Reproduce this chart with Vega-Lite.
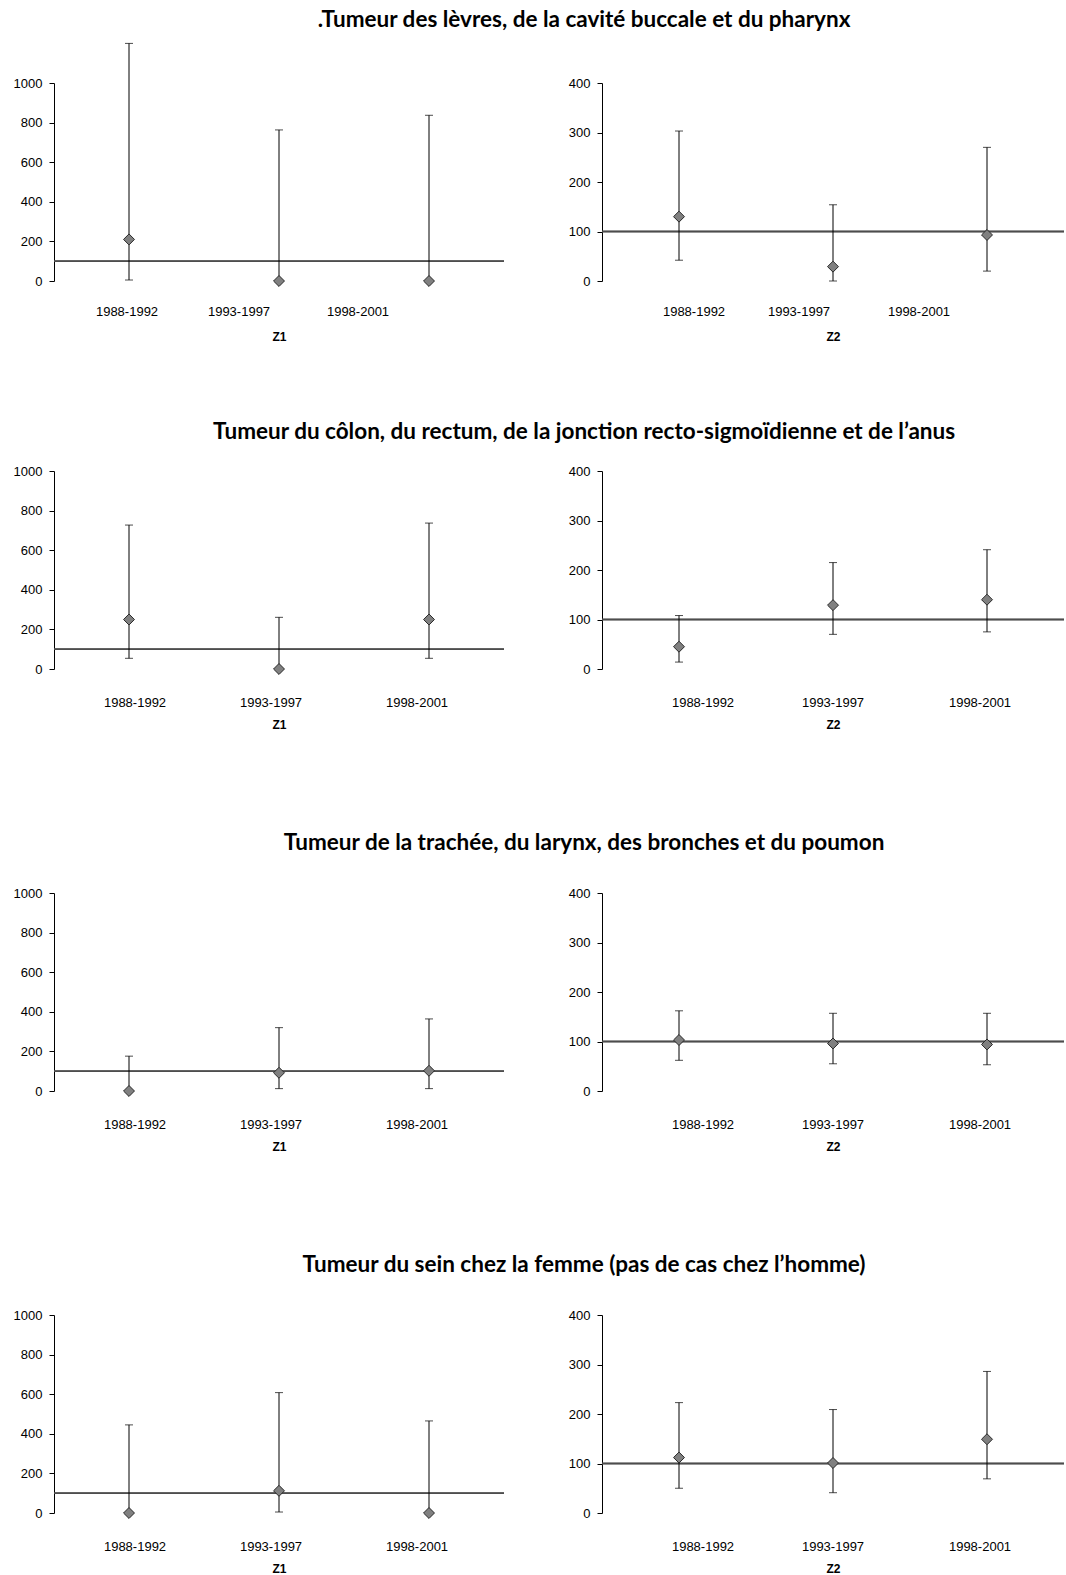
{
  "$schema": "https://vega.github.io/schema/vega-lite/v6.json",
  "padding": {"left": 13, "top": 9, "right": 0, "bottom": 0},
  "background": "white",
  "datasets": {
    "d": [
      {"cancer": "levres", "zone": "Z1", "periode": "1988-1992", "valeur": 210, "bas": 5, "haut": 1200},
      {"cancer": "levres", "zone": "Z1", "periode": "1993-1997", "valeur": 0, "bas": 0, "haut": 763},
      {"cancer": "levres", "zone": "Z1", "periode": "1998-2001", "valeur": 0, "bas": 0, "haut": 837},
      {"cancer": "levres", "zone": "Z2", "periode": "1988-1992", "valeur": 130, "bas": 42, "haut": 303},
      {"cancer": "levres", "zone": "Z2", "periode": "1993-1997", "valeur": 29, "bas": 0, "haut": 154},
      {"cancer": "levres", "zone": "Z2", "periode": "1998-2001", "valeur": 93, "bas": 20, "haut": 270},
      {"cancer": "colon", "zone": "Z1", "periode": "1988-1992", "valeur": 250, "bas": 54, "haut": 727},
      {"cancer": "colon", "zone": "Z1", "periode": "1993-1997", "valeur": 0, "bas": 0, "haut": 261},
      {"cancer": "colon", "zone": "Z1", "periode": "1998-2001", "valeur": 250, "bas": 54, "haut": 737},
      {"cancer": "colon", "zone": "Z2", "periode": "1988-1992", "valeur": 45, "bas": 14, "haut": 108},
      {"cancer": "colon", "zone": "Z2", "periode": "1993-1997", "valeur": 129, "bas": 70, "haut": 215},
      {"cancer": "colon", "zone": "Z2", "periode": "1998-2001", "valeur": 140, "bas": 75, "haut": 241},
      {"cancer": "poumon", "zone": "Z1", "periode": "1988-1992", "valeur": 0, "bas": 0, "haut": 176},
      {"cancer": "poumon", "zone": "Z1", "periode": "1993-1997", "valeur": 92, "bas": 12, "haut": 320},
      {"cancer": "poumon", "zone": "Z1", "periode": "1998-2001", "valeur": 102, "bas": 12, "haut": 364},
      {"cancer": "poumon", "zone": "Z2", "periode": "1988-1992", "valeur": 103, "bas": 62, "haut": 162},
      {"cancer": "poumon", "zone": "Z2", "periode": "1993-1997", "valeur": 96, "bas": 55, "haut": 157},
      {"cancer": "poumon", "zone": "Z2", "periode": "1998-2001", "valeur": 94, "bas": 53, "haut": 157},
      {"cancer": "sein", "zone": "Z1", "periode": "1988-1992", "valeur": 0, "bas": 0, "haut": 445},
      {"cancer": "sein", "zone": "Z1", "periode": "1993-1997", "valeur": 112, "bas": 5, "haut": 608},
      {"cancer": "sein", "zone": "Z1", "periode": "1998-2001", "valeur": 0, "bas": 0, "haut": 465},
      {"cancer": "sein", "zone": "Z2", "periode": "1988-1992", "valeur": 112, "bas": 50, "haut": 223},
      {"cancer": "sein", "zone": "Z2", "periode": "1993-1997", "valeur": 101, "bas": 41, "haut": 209},
      {"cancer": "sein", "zone": "Z2", "periode": "1998-2001", "valeur": 149, "bas": 69, "haut": 286}
    ]
  },
  "data": {"name": "d"},
  "spacing": 78,
  "vconcat": [
    {
      "title": {"text": ".Tumeur des lèvres, de la cavité buccale et du pharynx", "offset": 11, "dx": 571, "anchor": "start", "align": "center"},
      "bounds": "flush",
      "spacing": 98,
      "hconcat": [
        {
          "width": 450, "height": 198,
          "transform": [{"filter": "datum.cancer == 'levres' && datum.zone == 'Z1'"}],
          "layer": [
            {"mark": {"type": "rule", "color": "#4d4d4d", "strokeWidth": 1.5},
             "encoding": {"y": {"datum": 100, "type": "quantitative", "scale": {"domain": [0, 1000], "nice": false}, "axis": {"values": [0, 200, 400, 600, 800, 1000], "format": "d", "title": null}}}},
            {"mark": {"type": "rule", "color": "black", "strokeWidth": 1},
             "encoding": {
               "x": {"field": "periode", "type": "nominal", "sort": ["1988-1992", "1993-1997", "1998-2001"], "scale": {"type": "band", "paddingInner": 0, "paddingOuter": 0}, "axis": {"title": "Z1", "labelPadding": 24, "titlePadding": 13, "labelOffset": {"condition": [{"test": "datum.value == '1993-1997'", "value": -40}, {"test": "datum.value == '1998-2001'", "value": -71}], "value": -2}}},
               "y": {"field": "bas", "type": "quantitative", "scale": {"domain": [0, 1000], "nice": false}, "axis": {"values": [0, 200, 400, 600, 800, 1000], "format": "d", "title": null}},
               "y2": {"field": "haut"}}},
            {"mark": {"type": "tick", "color": "black", "thickness": 1, "size": 8},
             "encoding": {
               "x": {"field": "periode", "type": "nominal", "sort": ["1988-1992", "1993-1997", "1998-2001"], "scale": {"type": "band", "paddingInner": 0, "paddingOuter": 0}, "axis": {"title": "Z1", "labelPadding": 24, "titlePadding": 13, "labelOffset": {"condition": [{"test": "datum.value == '1993-1997'", "value": -40}, {"test": "datum.value == '1998-2001'", "value": -71}], "value": -2}}},
               "y": {"field": "haut", "type": "quantitative", "scale": {"domain": [0, 1000], "nice": false}, "axis": {"values": [0, 200, 400, 600, 800, 1000], "format": "d", "title": null}}}},
            {"mark": {"type": "tick", "color": "black", "thickness": 1, "size": 8},
             "encoding": {
               "x": {"field": "periode", "type": "nominal", "sort": ["1988-1992", "1993-1997", "1998-2001"], "scale": {"type": "band", "paddingInner": 0, "paddingOuter": 0}, "axis": {"title": "Z1", "labelPadding": 24, "titlePadding": 13, "labelOffset": {"condition": [{"test": "datum.value == '1993-1997'", "value": -40}, {"test": "datum.value == '1998-2001'", "value": -71}], "value": -2}}},
               "y": {"field": "bas", "type": "quantitative", "scale": {"domain": [0, 1000], "nice": false}, "axis": {"values": [0, 200, 400, 600, 800, 1000], "format": "d", "title": null}}}},
            {"mark": {"type": "point", "shape": "diamond", "filled": true, "fill": "#808080", "stroke": "#2a2a2a", "strokeWidth": 1, "size": 120, "opacity": 1},
             "encoding": {
               "x": {"field": "periode", "type": "nominal", "sort": ["1988-1992", "1993-1997", "1998-2001"], "scale": {"type": "band", "paddingInner": 0, "paddingOuter": 0}, "axis": {"title": "Z1", "labelPadding": 24, "titlePadding": 13, "labelOffset": {"condition": [{"test": "datum.value == '1993-1997'", "value": -40}, {"test": "datum.value == '1998-2001'", "value": -71}], "value": -2}}},
               "y": {"field": "valeur", "type": "quantitative", "scale": {"domain": [0, 1000], "nice": false}, "axis": {"values": [0, 200, 400, 600, 800, 1000], "format": "d", "title": null}}}}
          ]
        },
        {
          "width": 462, "height": 198,
          "transform": [{"filter": "datum.cancer == 'levres' && datum.zone == 'Z2'"}],
          "layer": [
            {"mark": {"type": "rule", "color": "#4d4d4d", "strokeWidth": 1.5},
             "encoding": {"y": {"datum": 100, "type": "quantitative", "scale": {"domain": [0, 400], "nice": false}, "axis": {"values": [0, 100, 200, 300, 400], "title": null}}}},
            {"mark": {"type": "rule", "color": "black", "strokeWidth": 1},
             "encoding": {
               "x": {"field": "periode", "type": "nominal", "sort": ["1988-1992", "1993-1997", "1998-2001"], "scale": {"type": "band", "paddingInner": 0, "paddingOuter": 0}, "axis": {"title": "Z2", "labelPadding": 24, "titlePadding": 13, "labelOffset": {"condition": [{"test": "datum.value == '1993-1997'", "value": -34}, {"test": "datum.value == '1998-2001'", "value": -68}], "value": 15}}},
               "y": {"field": "bas", "type": "quantitative", "scale": {"domain": [0, 400], "nice": false}, "axis": {"values": [0, 100, 200, 300, 400], "title": null}},
               "y2": {"field": "haut"}}},
            {"mark": {"type": "tick", "color": "black", "thickness": 1, "size": 8},
             "encoding": {
               "x": {"field": "periode", "type": "nominal", "sort": ["1988-1992", "1993-1997", "1998-2001"], "scale": {"type": "band", "paddingInner": 0, "paddingOuter": 0}, "axis": {"title": "Z2", "labelPadding": 24, "titlePadding": 13, "labelOffset": {"condition": [{"test": "datum.value == '1993-1997'", "value": -34}, {"test": "datum.value == '1998-2001'", "value": -68}], "value": 15}}},
               "y": {"field": "haut", "type": "quantitative", "scale": {"domain": [0, 400], "nice": false}, "axis": {"values": [0, 100, 200, 300, 400], "title": null}}}},
            {"mark": {"type": "tick", "color": "black", "thickness": 1, "size": 8},
             "encoding": {
               "x": {"field": "periode", "type": "nominal", "sort": ["1988-1992", "1993-1997", "1998-2001"], "scale": {"type": "band", "paddingInner": 0, "paddingOuter": 0}, "axis": {"title": "Z2", "labelPadding": 24, "titlePadding": 13, "labelOffset": {"condition": [{"test": "datum.value == '1993-1997'", "value": -34}, {"test": "datum.value == '1998-2001'", "value": -68}], "value": 15}}},
               "y": {"field": "bas", "type": "quantitative", "scale": {"domain": [0, 400], "nice": false}, "axis": {"values": [0, 100, 200, 300, 400], "title": null}}}},
            {"mark": {"type": "point", "shape": "diamond", "filled": true, "fill": "#808080", "stroke": "#2a2a2a", "strokeWidth": 1, "size": 120, "opacity": 1},
             "encoding": {
               "x": {"field": "periode", "type": "nominal", "sort": ["1988-1992", "1993-1997", "1998-2001"], "scale": {"type": "band", "paddingInner": 0, "paddingOuter": 0}, "axis": {"title": "Z2", "labelPadding": 24, "titlePadding": 13, "labelOffset": {"condition": [{"test": "datum.value == '1993-1997'", "value": -34}, {"test": "datum.value == '1998-2001'", "value": -68}], "value": 15}}},
               "y": {"field": "valeur", "type": "quantitative", "scale": {"domain": [0, 400], "nice": false}, "axis": {"values": [0, 100, 200, 300, 400], "title": null}}}}
          ]
        }
      ]
    },
    {
      "spacing": 101,
      "vconcat": [
        {
          "title": {"text": "Tumeur du côlon, du rectum, de la jonction recto-sigmoïdienne et de l’anus", "offset": 22, "dx": 571, "anchor": "start", "align": "center"},
          "bounds": "flush",
          "spacing": 98,
          "hconcat": [
            {
              "width": 450, "height": 198,
              "transform": [{"filter": "datum.cancer == 'colon' && datum.zone == 'Z1'"}],
              "layer": [
                {"mark": {"type": "rule", "color": "#4d4d4d", "strokeWidth": 1.5},
                 "encoding": {"y": {"datum": 100, "type": "quantitative", "scale": {"domain": [0, 1000], "nice": false}, "axis": {"values": [0, 200, 400, 600, 800, 1000], "format": "d", "title": null}}}},
                {"mark": {"type": "rule", "color": "black", "strokeWidth": 1},
                 "encoding": {
                   "x": {"field": "periode", "type": "nominal", "sort": ["1988-1992", "1993-1997", "1998-2001"], "scale": {"type": "band", "paddingInner": 0, "paddingOuter": 0}, "axis": {"title": "Z1", "labelOffset": {"condition": [{"test": "datum.value == '1993-1997'", "value": -8}, {"test": "datum.value == '1998-2001'", "value": -12}], "value": 6}}},
                   "y": {"field": "bas", "type": "quantitative", "scale": {"domain": [0, 1000], "nice": false}, "axis": {"values": [0, 200, 400, 600, 800, 1000], "format": "d", "title": null}},
                   "y2": {"field": "haut"}}},
                {"mark": {"type": "tick", "color": "black", "thickness": 1, "size": 8},
                 "encoding": {
                   "x": {"field": "periode", "type": "nominal", "sort": ["1988-1992", "1993-1997", "1998-2001"], "scale": {"type": "band", "paddingInner": 0, "paddingOuter": 0}, "axis": {"title": "Z1", "labelOffset": {"condition": [{"test": "datum.value == '1993-1997'", "value": -8}, {"test": "datum.value == '1998-2001'", "value": -12}], "value": 6}}},
                   "y": {"field": "haut", "type": "quantitative", "scale": {"domain": [0, 1000], "nice": false}, "axis": {"values": [0, 200, 400, 600, 800, 1000], "format": "d", "title": null}}}},
                {"mark": {"type": "tick", "color": "black", "thickness": 1, "size": 8},
                 "encoding": {
                   "x": {"field": "periode", "type": "nominal", "sort": ["1988-1992", "1993-1997", "1998-2001"], "scale": {"type": "band", "paddingInner": 0, "paddingOuter": 0}, "axis": {"title": "Z1", "labelOffset": {"condition": [{"test": "datum.value == '1993-1997'", "value": -8}, {"test": "datum.value == '1998-2001'", "value": -12}], "value": 6}}},
                   "y": {"field": "bas", "type": "quantitative", "scale": {"domain": [0, 1000], "nice": false}, "axis": {"values": [0, 200, 400, 600, 800, 1000], "format": "d", "title": null}}}},
                {"mark": {"type": "point", "shape": "diamond", "filled": true, "fill": "#808080", "stroke": "#2a2a2a", "strokeWidth": 1, "size": 120, "opacity": 1},
                 "encoding": {
                   "x": {"field": "periode", "type": "nominal", "sort": ["1988-1992", "1993-1997", "1998-2001"], "scale": {"type": "band", "paddingInner": 0, "paddingOuter": 0}, "axis": {"title": "Z1", "labelOffset": {"condition": [{"test": "datum.value == '1993-1997'", "value": -8}, {"test": "datum.value == '1998-2001'", "value": -12}], "value": 6}}},
                   "y": {"field": "valeur", "type": "quantitative", "scale": {"domain": [0, 1000], "nice": false}, "axis": {"values": [0, 200, 400, 600, 800, 1000], "format": "d", "title": null}}}}
              ]
            },
            {
              "width": 462, "height": 198,
              "transform": [{"filter": "datum.cancer == 'colon' && datum.zone == 'Z2'"}],
              "layer": [
                {"mark": {"type": "rule", "color": "#4d4d4d", "strokeWidth": 1.5},
                 "encoding": {"y": {"datum": 100, "type": "quantitative", "scale": {"domain": [0, 400], "nice": false}, "axis": {"values": [0, 100, 200, 300, 400], "title": null}}}},
                {"mark": {"type": "rule", "color": "black", "strokeWidth": 1},
                 "encoding": {
                   "x": {"field": "periode", "type": "nominal", "sort": ["1988-1992", "1993-1997", "1998-2001"], "scale": {"type": "band", "paddingInner": 0, "paddingOuter": 0}, "axis": {"title": "Z2", "labelOffset": {"condition": [{"test": "datum.value == '1993-1997'", "value": 0}, {"test": "datum.value == '1998-2001'", "value": -7}], "value": 24}}},
                   "y": {"field": "bas", "type": "quantitative", "scale": {"domain": [0, 400], "nice": false}, "axis": {"values": [0, 100, 200, 300, 400], "title": null}},
                   "y2": {"field": "haut"}}},
                {"mark": {"type": "tick", "color": "black", "thickness": 1, "size": 8},
                 "encoding": {
                   "x": {"field": "periode", "type": "nominal", "sort": ["1988-1992", "1993-1997", "1998-2001"], "scale": {"type": "band", "paddingInner": 0, "paddingOuter": 0}, "axis": {"title": "Z2", "labelOffset": {"condition": [{"test": "datum.value == '1993-1997'", "value": 0}, {"test": "datum.value == '1998-2001'", "value": -7}], "value": 24}}},
                   "y": {"field": "haut", "type": "quantitative", "scale": {"domain": [0, 400], "nice": false}, "axis": {"values": [0, 100, 200, 300, 400], "title": null}}}},
                {"mark": {"type": "tick", "color": "black", "thickness": 1, "size": 8},
                 "encoding": {
                   "x": {"field": "periode", "type": "nominal", "sort": ["1988-1992", "1993-1997", "1998-2001"], "scale": {"type": "band", "paddingInner": 0, "paddingOuter": 0}, "axis": {"title": "Z2", "labelOffset": {"condition": [{"test": "datum.value == '1993-1997'", "value": 0}, {"test": "datum.value == '1998-2001'", "value": -7}], "value": 24}}},
                   "y": {"field": "bas", "type": "quantitative", "scale": {"domain": [0, 400], "nice": false}, "axis": {"values": [0, 100, 200, 300, 400], "title": null}}}},
                {"mark": {"type": "point", "shape": "diamond", "filled": true, "fill": "#808080", "stroke": "#2a2a2a", "strokeWidth": 1, "size": 120, "opacity": 1},
                 "encoding": {
                   "x": {"field": "periode", "type": "nominal", "sort": ["1988-1992", "1993-1997", "1998-2001"], "scale": {"type": "band", "paddingInner": 0, "paddingOuter": 0}, "axis": {"title": "Z2", "labelOffset": {"condition": [{"test": "datum.value == '1993-1997'", "value": 0}, {"test": "datum.value == '1998-2001'", "value": -7}], "value": 24}}},
                   "y": {"field": "valeur", "type": "quantitative", "scale": {"domain": [0, 400], "nice": false}, "axis": {"values": [0, 100, 200, 300, 400], "title": null}}}}
              ]
            }
          ]
        },
        {
          "title": {"text": "Tumeur de la trachée, du larynx, des bronches et du poumon", "offset": 33, "dx": 571, "anchor": "start", "align": "center"},
          "bounds": "flush",
          "spacing": 98,
          "hconcat": [
            {
              "width": 450, "height": 198,
              "transform": [{"filter": "datum.cancer == 'poumon' && datum.zone == 'Z1'"}],
              "layer": [
                {"mark": {"type": "rule", "color": "#4d4d4d", "strokeWidth": 1.5},
                 "encoding": {"y": {"datum": 100, "type": "quantitative", "scale": {"domain": [0, 1000], "nice": false}, "axis": {"values": [0, 200, 400, 600, 800, 1000], "format": "d", "title": null}}}},
                {"mark": {"type": "rule", "color": "black", "strokeWidth": 1},
                 "encoding": {
                   "x": {"field": "periode", "type": "nominal", "sort": ["1988-1992", "1993-1997", "1998-2001"], "scale": {"type": "band", "paddingInner": 0, "paddingOuter": 0}, "axis": {"title": "Z1", "labelOffset": {"condition": [{"test": "datum.value == '1993-1997'", "value": -8}, {"test": "datum.value == '1998-2001'", "value": -12}], "value": 6}}},
                   "y": {"field": "bas", "type": "quantitative", "scale": {"domain": [0, 1000], "nice": false}, "axis": {"values": [0, 200, 400, 600, 800, 1000], "format": "d", "title": null}},
                   "y2": {"field": "haut"}}},
                {"mark": {"type": "tick", "color": "black", "thickness": 1, "size": 8},
                 "encoding": {
                   "x": {"field": "periode", "type": "nominal", "sort": ["1988-1992", "1993-1997", "1998-2001"], "scale": {"type": "band", "paddingInner": 0, "paddingOuter": 0}, "axis": {"title": "Z1", "labelOffset": {"condition": [{"test": "datum.value == '1993-1997'", "value": -8}, {"test": "datum.value == '1998-2001'", "value": -12}], "value": 6}}},
                   "y": {"field": "haut", "type": "quantitative", "scale": {"domain": [0, 1000], "nice": false}, "axis": {"values": [0, 200, 400, 600, 800, 1000], "format": "d", "title": null}}}},
                {"mark": {"type": "tick", "color": "black", "thickness": 1, "size": 8},
                 "encoding": {
                   "x": {"field": "periode", "type": "nominal", "sort": ["1988-1992", "1993-1997", "1998-2001"], "scale": {"type": "band", "paddingInner": 0, "paddingOuter": 0}, "axis": {"title": "Z1", "labelOffset": {"condition": [{"test": "datum.value == '1993-1997'", "value": -8}, {"test": "datum.value == '1998-2001'", "value": -12}], "value": 6}}},
                   "y": {"field": "bas", "type": "quantitative", "scale": {"domain": [0, 1000], "nice": false}, "axis": {"values": [0, 200, 400, 600, 800, 1000], "format": "d", "title": null}}}},
                {"mark": {"type": "point", "shape": "diamond", "filled": true, "fill": "#808080", "stroke": "#2a2a2a", "strokeWidth": 1, "size": 120, "opacity": 1},
                 "encoding": {
                   "x": {"field": "periode", "type": "nominal", "sort": ["1988-1992", "1993-1997", "1998-2001"], "scale": {"type": "band", "paddingInner": 0, "paddingOuter": 0}, "axis": {"title": "Z1", "labelOffset": {"condition": [{"test": "datum.value == '1993-1997'", "value": -8}, {"test": "datum.value == '1998-2001'", "value": -12}], "value": 6}}},
                   "y": {"field": "valeur", "type": "quantitative", "scale": {"domain": [0, 1000], "nice": false}, "axis": {"values": [0, 200, 400, 600, 800, 1000], "format": "d", "title": null}}}}
              ]
            },
            {
              "width": 462, "height": 198,
              "transform": [{"filter": "datum.cancer == 'poumon' && datum.zone == 'Z2'"}],
              "layer": [
                {"mark": {"type": "rule", "color": "#4d4d4d", "strokeWidth": 1.5},
                 "encoding": {"y": {"datum": 100, "type": "quantitative", "scale": {"domain": [0, 400], "nice": false}, "axis": {"values": [0, 100, 200, 300, 400], "title": null}}}},
                {"mark": {"type": "rule", "color": "black", "strokeWidth": 1},
                 "encoding": {
                   "x": {"field": "periode", "type": "nominal", "sort": ["1988-1992", "1993-1997", "1998-2001"], "scale": {"type": "band", "paddingInner": 0, "paddingOuter": 0}, "axis": {"title": "Z2", "labelOffset": {"condition": [{"test": "datum.value == '1993-1997'", "value": 0}, {"test": "datum.value == '1998-2001'", "value": -7}], "value": 24}}},
                   "y": {"field": "bas", "type": "quantitative", "scale": {"domain": [0, 400], "nice": false}, "axis": {"values": [0, 100, 200, 300, 400], "title": null}},
                   "y2": {"field": "haut"}}},
                {"mark": {"type": "tick", "color": "black", "thickness": 1, "size": 8},
                 "encoding": {
                   "x": {"field": "periode", "type": "nominal", "sort": ["1988-1992", "1993-1997", "1998-2001"], "scale": {"type": "band", "paddingInner": 0, "paddingOuter": 0}, "axis": {"title": "Z2", "labelOffset": {"condition": [{"test": "datum.value == '1993-1997'", "value": 0}, {"test": "datum.value == '1998-2001'", "value": -7}], "value": 24}}},
                   "y": {"field": "haut", "type": "quantitative", "scale": {"domain": [0, 400], "nice": false}, "axis": {"values": [0, 100, 200, 300, 400], "title": null}}}},
                {"mark": {"type": "tick", "color": "black", "thickness": 1, "size": 8},
                 "encoding": {
                   "x": {"field": "periode", "type": "nominal", "sort": ["1988-1992", "1993-1997", "1998-2001"], "scale": {"type": "band", "paddingInner": 0, "paddingOuter": 0}, "axis": {"title": "Z2", "labelOffset": {"condition": [{"test": "datum.value == '1993-1997'", "value": 0}, {"test": "datum.value == '1998-2001'", "value": -7}], "value": 24}}},
                   "y": {"field": "bas", "type": "quantitative", "scale": {"domain": [0, 400], "nice": false}, "axis": {"values": [0, 100, 200, 300, 400], "title": null}}}},
                {"mark": {"type": "point", "shape": "diamond", "filled": true, "fill": "#808080", "stroke": "#2a2a2a", "strokeWidth": 1, "size": 120, "opacity": 1},
                 "encoding": {
                   "x": {"field": "periode", "type": "nominal", "sort": ["1988-1992", "1993-1997", "1998-2001"], "scale": {"type": "band", "paddingInner": 0, "paddingOuter": 0}, "axis": {"title": "Z2", "labelOffset": {"condition": [{"test": "datum.value == '1993-1997'", "value": 0}, {"test": "datum.value == '1998-2001'", "value": -7}], "value": 24}}},
                   "y": {"field": "valeur", "type": "quantitative", "scale": {"domain": [0, 400], "nice": false}, "axis": {"values": [0, 100, 200, 300, 400], "title": null}}}}
              ]
            }
          ]
        },
        {
          "title": {"text": "Tumeur du sein chez la femme (pas de cas chez l’homme)", "offset": 33, "dx": 571, "anchor": "start", "align": "center"},
          "bounds": "flush",
          "spacing": 98,
          "hconcat": [
            {
              "width": 450, "height": 198,
              "transform": [{"filter": "datum.cancer == 'sein' && datum.zone == 'Z1'"}],
              "layer": [
                {"mark": {"type": "rule", "color": "#4d4d4d", "strokeWidth": 1.5},
                 "encoding": {"y": {"datum": 100, "type": "quantitative", "scale": {"domain": [0, 1000], "nice": false}, "axis": {"values": [0, 200, 400, 600, 800, 1000], "format": "d", "title": null}}}},
                {"mark": {"type": "rule", "color": "black", "strokeWidth": 1},
                 "encoding": {
                   "x": {"field": "periode", "type": "nominal", "sort": ["1988-1992", "1993-1997", "1998-2001"], "scale": {"type": "band", "paddingInner": 0, "paddingOuter": 0}, "axis": {"title": "Z1", "labelOffset": {"condition": [{"test": "datum.value == '1993-1997'", "value": -8}, {"test": "datum.value == '1998-2001'", "value": -12}], "value": 6}}},
                   "y": {"field": "bas", "type": "quantitative", "scale": {"domain": [0, 1000], "nice": false}, "axis": {"values": [0, 200, 400, 600, 800, 1000], "format": "d", "title": null}},
                   "y2": {"field": "haut"}}},
                {"mark": {"type": "tick", "color": "black", "thickness": 1, "size": 8},
                 "encoding": {
                   "x": {"field": "periode", "type": "nominal", "sort": ["1988-1992", "1993-1997", "1998-2001"], "scale": {"type": "band", "paddingInner": 0, "paddingOuter": 0}, "axis": {"title": "Z1", "labelOffset": {"condition": [{"test": "datum.value == '1993-1997'", "value": -8}, {"test": "datum.value == '1998-2001'", "value": -12}], "value": 6}}},
                   "y": {"field": "haut", "type": "quantitative", "scale": {"domain": [0, 1000], "nice": false}, "axis": {"values": [0, 200, 400, 600, 800, 1000], "format": "d", "title": null}}}},
                {"mark": {"type": "tick", "color": "black", "thickness": 1, "size": 8},
                 "encoding": {
                   "x": {"field": "periode", "type": "nominal", "sort": ["1988-1992", "1993-1997", "1998-2001"], "scale": {"type": "band", "paddingInner": 0, "paddingOuter": 0}, "axis": {"title": "Z1", "labelOffset": {"condition": [{"test": "datum.value == '1993-1997'", "value": -8}, {"test": "datum.value == '1998-2001'", "value": -12}], "value": 6}}},
                   "y": {"field": "bas", "type": "quantitative", "scale": {"domain": [0, 1000], "nice": false}, "axis": {"values": [0, 200, 400, 600, 800, 1000], "format": "d", "title": null}}}},
                {"mark": {"type": "point", "shape": "diamond", "filled": true, "fill": "#808080", "stroke": "#2a2a2a", "strokeWidth": 1, "size": 120, "opacity": 1},
                 "encoding": {
                   "x": {"field": "periode", "type": "nominal", "sort": ["1988-1992", "1993-1997", "1998-2001"], "scale": {"type": "band", "paddingInner": 0, "paddingOuter": 0}, "axis": {"title": "Z1", "labelOffset": {"condition": [{"test": "datum.value == '1993-1997'", "value": -8}, {"test": "datum.value == '1998-2001'", "value": -12}], "value": 6}}},
                   "y": {"field": "valeur", "type": "quantitative", "scale": {"domain": [0, 1000], "nice": false}, "axis": {"values": [0, 200, 400, 600, 800, 1000], "format": "d", "title": null}}}}
              ]
            },
            {
              "width": 462, "height": 198,
              "transform": [{"filter": "datum.cancer == 'sein' && datum.zone == 'Z2'"}],
              "layer": [
                {"mark": {"type": "rule", "color": "#4d4d4d", "strokeWidth": 1.5},
                 "encoding": {"y": {"datum": 100, "type": "quantitative", "scale": {"domain": [0, 400], "nice": false}, "axis": {"values": [0, 100, 200, 300, 400], "title": null}}}},
                {"mark": {"type": "rule", "color": "black", "strokeWidth": 1},
                 "encoding": {
                   "x": {"field": "periode", "type": "nominal", "sort": ["1988-1992", "1993-1997", "1998-2001"], "scale": {"type": "band", "paddingInner": 0, "paddingOuter": 0}, "axis": {"title": "Z2", "labelOffset": {"condition": [{"test": "datum.value == '1993-1997'", "value": 0}, {"test": "datum.value == '1998-2001'", "value": -7}], "value": 24}}},
                   "y": {"field": "bas", "type": "quantitative", "scale": {"domain": [0, 400], "nice": false}, "axis": {"values": [0, 100, 200, 300, 400], "title": null}},
                   "y2": {"field": "haut"}}},
                {"mark": {"type": "tick", "color": "black", "thickness": 1, "size": 8},
                 "encoding": {
                   "x": {"field": "periode", "type": "nominal", "sort": ["1988-1992", "1993-1997", "1998-2001"], "scale": {"type": "band", "paddingInner": 0, "paddingOuter": 0}, "axis": {"title": "Z2", "labelOffset": {"condition": [{"test": "datum.value == '1993-1997'", "value": 0}, {"test": "datum.value == '1998-2001'", "value": -7}], "value": 24}}},
                   "y": {"field": "haut", "type": "quantitative", "scale": {"domain": [0, 400], "nice": false}, "axis": {"values": [0, 100, 200, 300, 400], "title": null}}}},
                {"mark": {"type": "tick", "color": "black", "thickness": 1, "size": 8},
                 "encoding": {
                   "x": {"field": "periode", "type": "nominal", "sort": ["1988-1992", "1993-1997", "1998-2001"], "scale": {"type": "band", "paddingInner": 0, "paddingOuter": 0}, "axis": {"title": "Z2", "labelOffset": {"condition": [{"test": "datum.value == '1993-1997'", "value": 0}, {"test": "datum.value == '1998-2001'", "value": -7}], "value": 24}}},
                   "y": {"field": "bas", "type": "quantitative", "scale": {"domain": [0, 400], "nice": false}, "axis": {"values": [0, 100, 200, 300, 400], "title": null}}}},
                {"mark": {"type": "point", "shape": "diamond", "filled": true, "fill": "#808080", "stroke": "#2a2a2a", "strokeWidth": 1, "size": 120, "opacity": 1},
                 "encoding": {
                   "x": {"field": "periode", "type": "nominal", "sort": ["1988-1992", "1993-1997", "1998-2001"], "scale": {"type": "band", "paddingInner": 0, "paddingOuter": 0}, "axis": {"title": "Z2", "labelOffset": {"condition": [{"test": "datum.value == '1993-1997'", "value": 0}, {"test": "datum.value == '1998-2001'", "value": -7}], "value": 24}}},
                   "y": {"field": "valeur", "type": "quantitative", "scale": {"domain": [0, 400], "nice": false}, "axis": {"values": [0, 100, 200, 300, 400], "title": null}}}}
              ]
            }
          ]
        }
      ]
    }
  ],
  "config": {
    "view": {"stroke": null},
    "font": "Liberation Sans",
    "axis": {"labelFont": "Liberation Sans", "labelFontSize": 13, "labelColor": "black", "titleFont": "Liberation Sans", "titleFontSize": 12, "titleFontWeight": "bold", "titleColor": "black", "domainColor": "black", "tickColor": "black", "grid": false},
    "axisX": {"domain": false, "ticks": false, "labelAngle": 0, "labelPadding": 27, "titlePadding": 10},
    "axisY": {"tickSize": 5, "labelPadding": 7},
    "title": {"font": "Lato", "fontSize": 22.5, "fontWeight": "bold", "color": "black"}
  }
}
